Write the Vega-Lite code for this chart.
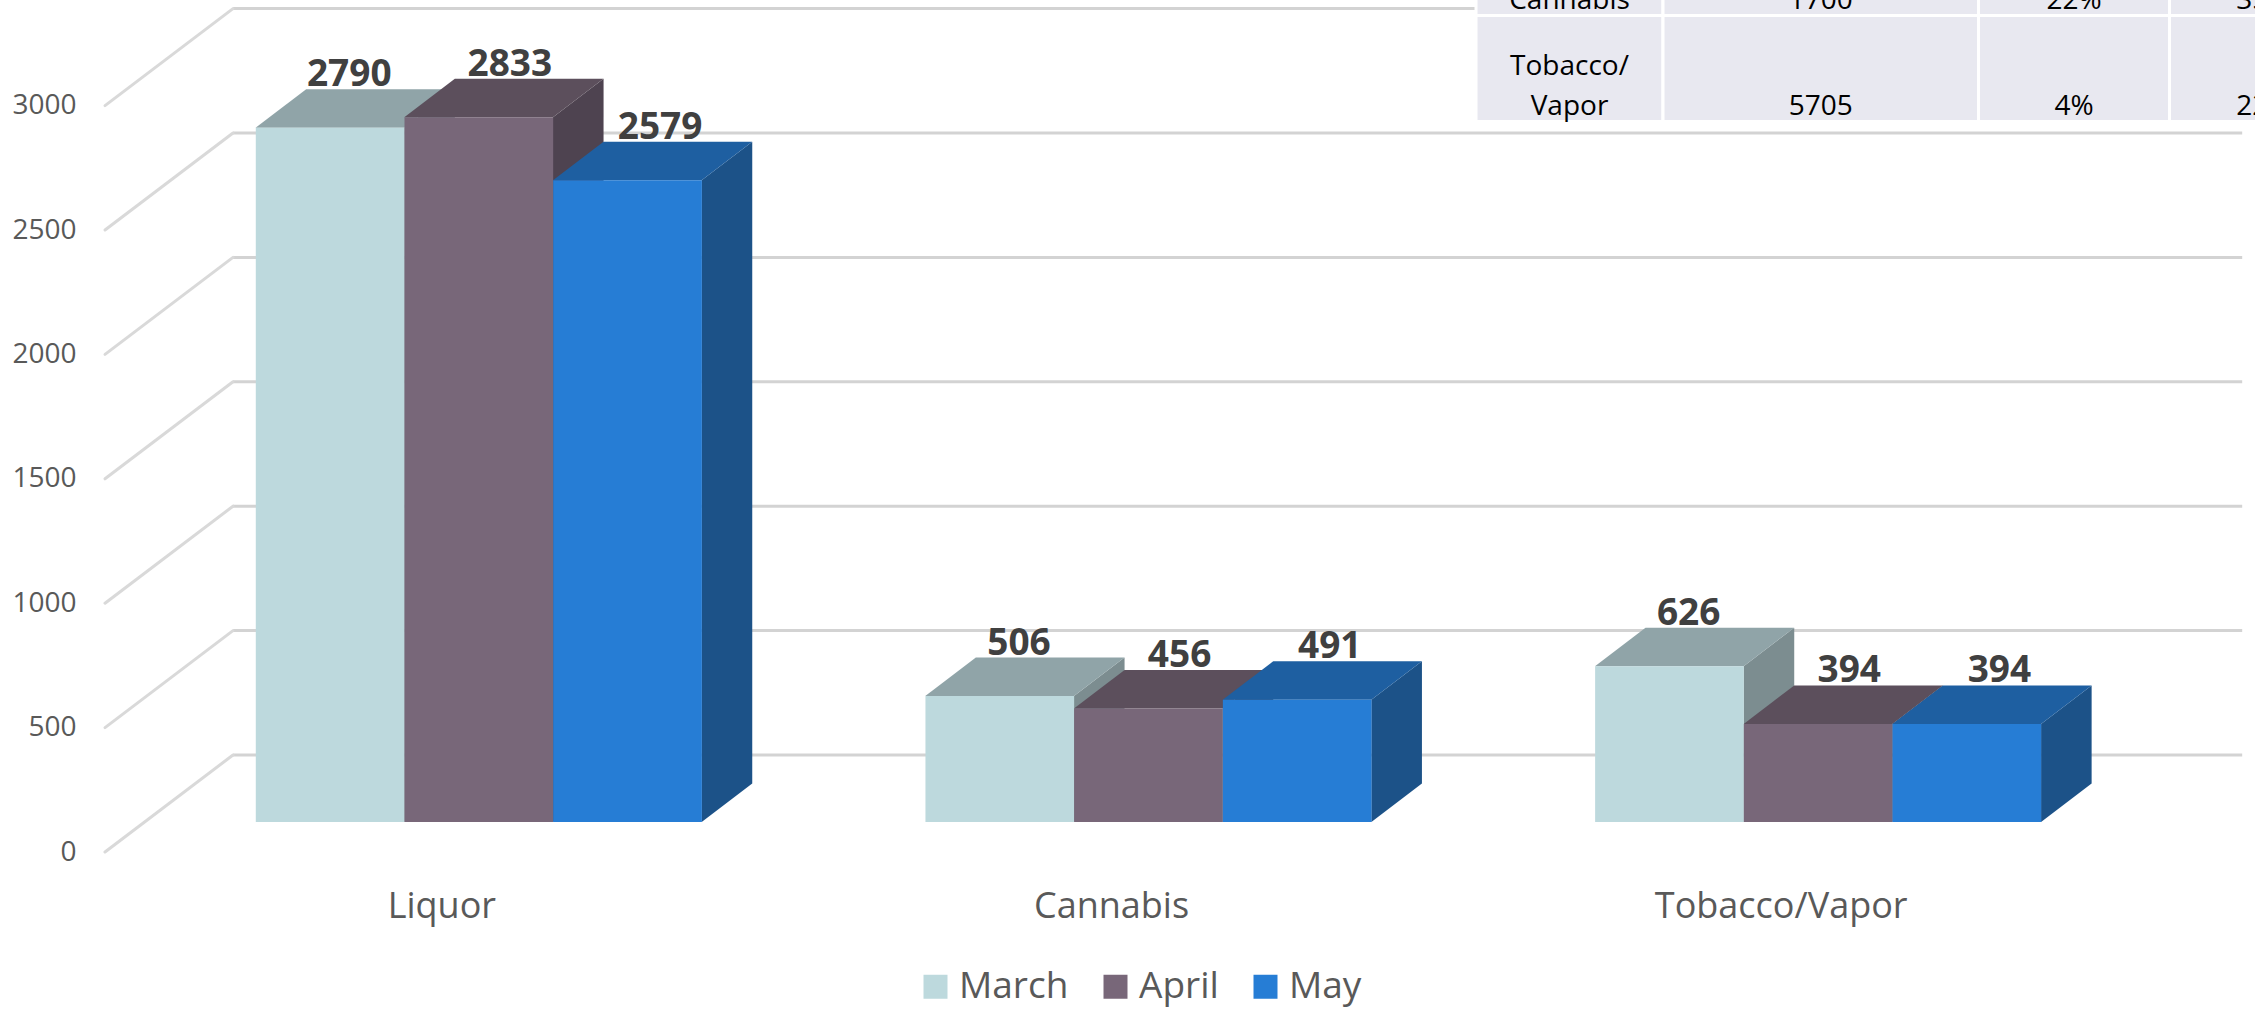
{"$schema":"https://vega.github.io/schema/vega-lite/v6.json","width":2255,"height":1009,"padding":0,"autosize":{"type":"none"},"background":"white","config":{"view":{"stroke":null},"font":"Open Sans"},
"datasets":{"sales":[{"category":"Liquor","month":"March","value":2790},{"category":"Liquor","month":"April","value":2833},{"category":"Liquor","month":"May","value":2579},{"category":"Cannabis","month":"March","value":506},{"category":"Cannabis","month":"April","value":456},{"category":"Cannabis","month":"May","value":491},{"category":"Tobacco/Vapor","month":"March","value":626},{"category":"Tobacco/Vapor","month":"April","value":394},{"category":"Tobacco/Vapor","month":"May","value":394}],
"ticks":[{"tick":0},{"tick":500},{"tick":1000},{"tick":1500},{"tick":2000},{"tick":2500},{"tick":3000}],
"table":[{"row":0,"col":0,"label":"Cannabis","lift":0},{"row":0,"col":1,"label":"1700","lift":0},{"row":0,"col":2,"label":"22%","lift":0},{"row":0,"col":3,"label":"35%","lift":0},{"row":1,"col":0,"label":"Vapor","lift":0},{"row":1,"col":0,"label":"Tobacco/","lift":1},{"row":1,"col":1,"label":"5705","lift":0},{"row":1,"col":2,"label":"4%","lift":0},{"row":1,"col":3,"label":"22%","lift":0}]},
"resolve":{"scale":{"x":"independent","y":"independent","color":"independent"}},
"layer":[
{"data":{"name":"ticks"},"transform":[{"calculate":"datum.tick+269.3","as":"wall"},{"calculate":"datum.tick-120.6","as":"floor"}],"mark":{"type":"rule","color":"#D3D3D3","strokeWidth":3},
"encoding":{"x":{"datum":-0.152,"type":"quantitative","scale":{"domain":[-1.7189,13.4461],"nice":false,"zero":false},"axis":null},"x2":{"datum":13.36},
"y":{"field":"wall","type":"quantitative","scale":{"domain":[-751.6,3303.9],"nice":false,"zero":false},"axis":null}}},
{"data":{"name":"ticks"},"transform":[{"calculate":"datum.tick+269.3","as":"wall"},{"calculate":"datum.tick-120.6","as":"floor"}],"mark":{"type":"rule","color":"#D9D9D9","strokeWidth":3,"strokeCap":"round"},
"encoding":{"x":{"datum":-1.0127,"type":"quantitative","scale":{"domain":[-1.7189,13.4461],"nice":false,"zero":false},"axis":null},"x2":{"datum":-0.152},
"y":{"field":"floor","type":"quantitative","scale":{"domain":[-751.6,3303.9],"nice":false,"zero":false},"axis":null},"y2":{"field":"wall"}}},
{"data":{"name":"ticks"},"mark":{"type":"rule","opacity":0},
"encoding":{"y":{"field":"tick","type":"quantitative","scale":{"domain":[-751.6,3303.9],"nice":false,"zero":false},"axis":{"orient":"left","offset":-76,"values":[0,500,1000,1500,2000,2500,3000],"format":"d","title":null,"domain":false,"ticks":false,"grid":false,"labelOffset":30,"labelPadding":0,"labelFontSize":28,"labelColor":"#595959","labelFont":"Open Sans"}}}},
{"data":{"name":"sales"},"transform":[{"calculate":"indexof(['Liquor','Cannabis','Tobacco/Vapor'],datum.category)*4.5037+indexof(['March','April','May'],datum.month)","as":"u0"},{"calculate":"[0,1]","as":"t"},{"flatten":["t"]},{"calculate":"datum.u0+1+0.34*datum.t","as":"sx"},{"calculate":"datum.value+154.7*datum.t","as":"top"},{"calculate":"154.7*datum.t","as":"bottom"}],"mark":{"type":"area"},
"encoding":{"x":{"field":"sx","type":"quantitative","scale":{"domain":[-1.7189,13.4461],"nice":false,"zero":false},"axis":null},
"y":{"field":"top","type":"quantitative","stack":null,"scale":{"domain":[-751.6,3303.9],"nice":false,"zero":false},"axis":null},"y2":{"field":"bottom"},
"color":{"field":"month","type":"nominal","sort":null,"scale":{"domain":["March","April","May"],"range":["#7C8D90","#4E4350","#1C5288"]},"legend":null},"detail":{"field":"category"}}},
{"data":{"name":"sales"},"transform":[{"calculate":"indexof(['Liquor','Cannabis','Tobacco/Vapor'],datum.category)*4.5037+indexof(['March','April','May'],datum.month)","as":"u0"},{"calculate":"[0,1]","as":"t"},{"flatten":["t"]},{"calculate":"datum.u0+0.34*datum.t","as":"xa"},{"calculate":"datum.u0+1+0.34*datum.t","as":"xb"},{"calculate":"datum.value+154.7*datum.t","as":"top"}],"mark":{"type":"area","orient":"horizontal"},
"encoding":{"y":{"field":"top","type":"quantitative","scale":{"domain":[-751.6,3303.9],"nice":false,"zero":false},"axis":null},
"x":{"field":"xa","type":"quantitative","stack":null,"scale":{"domain":[-1.7189,13.4461],"nice":false,"zero":false},"axis":null},"x2":{"field":"xb"},
"color":{"field":"month","type":"nominal","sort":null,"scale":{"domain":["March","April","May"],"range":["#90A4A8","#5C4F5C","#1E5FA1"]},"legend":null},"detail":{"field":"category"}}},
{"data":{"name":"sales"},"mark":{"type":"bar"},
"encoding":{"x":{"field":"category","type":"nominal","sort":["Liquor","Cannabis","Tobacco/Vapor"],"scale":{"range":[144,2153],"paddingInner":0,"paddingOuter":0},"axis":{"orient":"bottom","offset":-120,"title":null,"domain":false,"ticks":false,"grid":false,"labelAngle":0,"labelOffset":-37,"labelPadding":0,"labelLimit":600,"labelFontSize":36,"labelColor":"#595959","labelFont":"Open Sans"}},
"xOffset":{"field":"month","type":"nominal","sort":["March","April","May"],"scale":{"paddingInner":0,"paddingOuter":0.7518}},
"y":{"field":"value","type":"quantitative","stack":null,"scale":{"domain":[-751.6,3303.9],"nice":false,"zero":false},"axis":null},
"color":{"field":"month","type":"nominal","sort":["March","April","May"],"scale":{"domain":["March","April","May"],"range":["#BDD9DD","#786779","#267DD5"]},"legend":{"orient":"none","legendX":917,"legendY":968,"direction":"horizontal","title":null,"symbolType":"square","symbolSize":576,"symbolStrokeWidth":0,"labelFontSize":37,"labelColor":"#595959","labelFont":"Open Sans","labelOffset":5,"columnPadding":28,"padding":0}}}},
{"data":{"name":"sales"},"transform":[{"calculate":"indexof(['Liquor','Cannabis','Tobacco/Vapor'],datum.category)*4.5037+indexof(['March','April','May'],datum.month)+0.67+[-0.04,0.04,0.05][indexof(['March','April','May'],datum.month)]","as":"lx"},{"calculate":"datum.value+154.7","as":"ly"}],"mark":{"type":"text","fontSize":37,"fontWeight":"bold","color":"#404040","font":"Open Sans","dy":-14},
"encoding":{"x":{"field":"lx","type":"quantitative","scale":{"domain":[-1.7189,13.4461],"nice":false,"zero":false},"axis":null},"y":{"field":"ly","type":"quantitative","scale":{"domain":[-751.6,3303.9],"nice":false,"zero":false},"axis":null},"text":{"field":"value","type":"nominal"}}},
{"data":{"name":"table"},"transform":[{"filter":"datum.lift==0"},{"calculate":"datum.col+1","as":"colEnd"},{"calculate":"datum.row+1","as":"rowEnd"}],"mark":{"type":"rect","fill":"#E8E8F0","stroke":"white","strokeWidth":3},
"encoding":{"x":{"field":"col","type":"quantitative","scale":{"domain":[0,1,2,3,4],"range":[1476,1663,1978.5,2169.5,2358],"nice":false,"zero":false},"axis":null},"x2":{"field":"colEnd"},"y":{"field":"row","type":"quantitative","scale":{"domain":[0,1,2],"range":[-90,15.5,121.5],"nice":false,"zero":false},"axis":null},"y2":{"field":"rowEnd"}}},
{"data":{"name":"table"},"transform":[{"calculate":"datum.col+0.5","as":"colMid"},{"calculate":"datum.row+1-0.377*datum.lift","as":"rowEnd"}],"mark":{"type":"text","fontSize":28,"color":"#000000","font":"Open Sans","baseline":"bottom","dy":-1,"align":"center"},
"encoding":{"x":{"field":"colMid","type":"quantitative","scale":{"domain":[0,1,2,3,4],"range":[1476,1663,1978.5,2169.5,2358],"nice":false,"zero":false},"axis":null},"y":{"field":"rowEnd","type":"quantitative","scale":{"domain":[0,1,2],"range":[-90,15.5,121.5],"nice":false,"zero":false},"axis":null},"text":{"field":"label","type":"nominal"}}}
]}
